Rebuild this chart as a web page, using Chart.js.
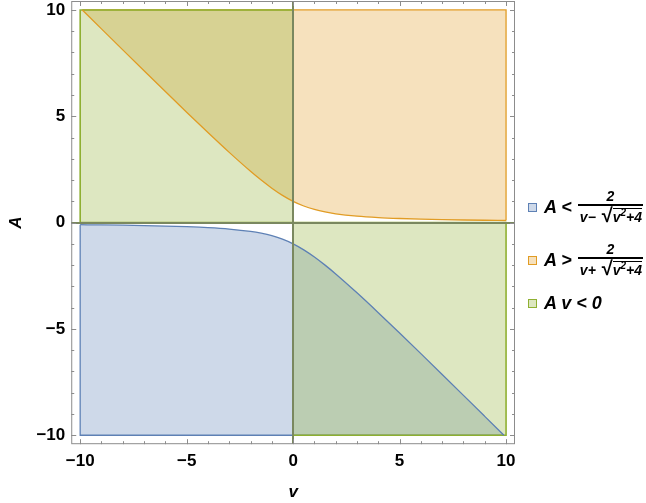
<!DOCTYPE html>
<html>
<head>
<meta charset="utf-8">
<script src="https://cdn.jsdelivr.net/npm/chart.js@4.4.1/dist/chart.umd.min.js"></script>
<style>
  body { margin: 0; background: #fff; }
  #wrap { position: relative; width: 646px; height: 503px; overflow: hidden; }
  #legend { position: absolute; left: 0; top: 0; font-family: "Liberation Sans", Arial, sans-serif; font-weight: bold; font-style: italic; color: #000; }
  .item { position: absolute; left: 528px; display: flex; align-items: center; white-space: nowrap; }
  .sw { display: inline-block; width: 7px; height: 7px; border: 1px solid; margin-right: 7px; }
  .lhs { font-size: 18px; line-height: 20px; margin-right: 6px; }
  .frac { display: inline-flex; flex-direction: column; align-items: center; font-size: 14px; line-height: 15px; }
  .den { border-top: 2px solid #000; padding: 2px 1px 0 2px; }
  .rad { border-top: 1.3px solid #000; line-height: 14px; }
  .root { font-size: 20px; font-style: normal; line-height: 15px; margin-left: 2px; }
  sup { font-size: 10px; line-height: 0; }
</style>
</head>
<body>
<div id="wrap">
  <canvas id="chart" width="646" height="503"></canvas>
  <div id="legend">
    <div class="item" style="top:189px">
      <span class="sw" style="border-color:#5E81B5;background:rgba(94,129,181,0.3)"></span>
      <span class="lhs">A &lt;</span>
      <span class="frac"><span class="num">2</span><span class="den">v− <span class="root">√</span><span class="rad">v<sup>2</sup>+4</span></span></span>
    </div>
    <div class="item" style="top:242px">
      <span class="sw" style="border-color:#E19C24;background:rgba(225,156,36,0.3)"></span>
      <span class="lhs">A &gt;</span>
      <span class="frac"><span class="num">2</span><span class="den">v+ <span class="root">√</span><span class="rad">v<sup>2</sup>+4</span></span></span>
    </div>
    <div class="item" style="top:293px">
      <span class="sw" style="border-color:#8FB032;background:rgba(143,176,50,0.3)"></span>
      <span class="lhs">A v &lt; 0</span>
    </div>
  </div>
</div>
<script>
// valeurs
const blueV = [-10, -9, -8, -7, -6, -5, -4, -3, -2, -1.5, -1, -0.5, 0, 0.5, 1, 1.5, 2, 3, 4, 5, 6, 7, 8, 9, 9.9];
const blueA = [-0.099, -0.110, -0.123, -0.140, -0.162, -0.193, -0.236, -0.303, -0.414, -0.5, -0.618, -0.781, -1, -1.281, -1.618, -2, -2.414, -3.303, -4.236, -5.193, -6.162, -7.140, -8.123, -9.110, -10];
const orangeV = [-9.9, -9, -8, -7, -6, -5, -4, -3, -2, -1.5, -1, -0.5, 0, 0.5, 1, 1.5, 2, 3, 4, 5, 6, 7, 8, 9, 10];
const orangeA = [10, 9.110, 8.123, 7.140, 6.162, 5.193, 4.236, 3.303, 2.414, 2, 1.618, 1.281, 1, 0.781, 0.618, 0.5, 0.414, 0.303, 0.236, 0.193, 0.162, 0.140, 0.123, 0.110, 0.099];
const tickVals = [-10, -5, 0, 5, 10];
const tickLabels = ['−10', '−5', '0', '5', '10'];
const axisMin = -10.42, axisMax = 10.42;

const BLUE = '#5E81B5', ORANGE = '#E19C24', GREEN = '#8FB032';
const pts = (xs, ys) => xs.map((x, i) => ({ x: x, y: ys[i] }));

const base = { pointRadius: 0, tension: 0, borderWidth: 1.3 };

const datasets = [
  // courbes par-dessus tout
  { ...base, data: pts(blueV, blueA), fill: false, borderColor: BLUE, cubicInterpolationMode: 'monotone', order: -1 },
  { ...base, data: pts(orangeV, orangeA), fill: false, borderColor: ORANGE, cubicInterpolationMode: 'monotone', order: -1 },
  // A v < 0
  { ...base, data: [{x: -10, y: 0}, {x: 0, y: 0}], fill: { value: 10 }, backgroundColor: 'rgba(143,176,50,0.3)', borderWidth: 0, order: 0 },
  { ...base, data: [{x: 0, y: 0}, {x: 10, y: 0}], fill: { value: -10 }, backgroundColor: 'rgba(143,176,50,0.3)', borderWidth: 0, order: 0 },
  { ...base, data: [{x: 0, y: 10}, {x: -10, y: 10}, {x: -10, y: 0}, {x: 0, y: 0}, {x: 0, y: 10}], fill: false, borderColor: GREEN, borderWidth: 1.6, order: 0 },
  { ...base, data: [{x: 0, y: 0}, {x: 10, y: 0}, {x: 10, y: -10}, {x: 0, y: -10}, {x: 0, y: 0}], fill: false, borderColor: GREEN, borderWidth: 1.6, order: 0 },
  // A < 2/(v - sqrt(v^2+4))
  { ...base, data: pts(blueV, blueA), fill: { value: -10 }, backgroundColor: 'rgba(94,129,181,0.3)', borderWidth: 0, cubicInterpolationMode: 'monotone', order: 1 },
  { ...base, data: [{x: -10, y: blueA[0]}, {x: -10, y: -10}, {x: 9.9, y: -10}], fill: false, borderColor: BLUE, order: 1 },
  // A > 2/(v + sqrt(v^2+4))
  { ...base, data: pts(orangeV, orangeA), fill: { value: 10 }, backgroundColor: 'rgba(225,156,36,0.3)', borderWidth: 0, cubicInterpolationMode: 'monotone', order: 1 },
  { ...base, data: [{x: -9.9, y: 10}, {x: 10, y: 10}, {x: 10, y: orangeA[orangeA.length - 1]}], fill: false, borderColor: ORANGE, order: 1 }
];

// cadre + graduations vers l'intérieur
const frameTicks = {
  id: 'frameTicks',
  afterDraw(chart) {
    const { ctx, chartArea: a, scales: { x, y } } = chart;
    ctx.save();
    ctx.strokeStyle = '#8c8c8c';
    ctx.lineWidth = 1;
    ctx.strokeRect(a.left + 0.5, a.top + 0.5, a.right - a.left - 1, a.bottom - a.top - 1);
    for (let v = -10; v <= 10; v++) {
      const len = v % 5 === 0 ? 5 : 3;
      const px = Math.round(x.getPixelForValue(v)) + 0.5;
      const py = Math.round(y.getPixelForValue(v)) + 0.5;
      ctx.beginPath();
      ctx.moveTo(px, a.bottom); ctx.lineTo(px, a.bottom - len);
      ctx.moveTo(px, a.top); ctx.lineTo(px, a.top + len);
      ctx.moveTo(a.left, py); ctx.lineTo(a.left + len, py);
      ctx.moveTo(a.right, py); ctx.lineTo(a.right - len, py);
      ctx.stroke();
    }
    ctx.restore();
  }
};

const tickFont = { family: '"Liberation Sans", Arial, sans-serif', size: 17, weight: 'bold' };
const titleFont = { family: '"Liberation Sans", Arial, sans-serif', size: 17, weight: 'bold', style: 'italic' };

const zeroGrid = {
  color: c => (c.tick && c.tick.value === 0 ? '#7a885f' : 'rgba(0,0,0,0)'),
  lineWidth: 2,
  drawTicks: false,
  z: 1
};
const noPad = s => { s.paddingTop = 0; s.paddingBottom = 0; s.paddingLeft = 0; s.paddingRight = 0; };

new Chart(document.getElementById('chart'), {
  type: 'line',
  data: { datasets: datasets },
  options: {
    responsive: false,
    animation: false,
    layout: { padding: { left: 6, top: 1, right: 131, bottom: 0 } },
    plugins: { legend: { display: false }, tooltip: { enabled: false } },
    scales: {
      x: {
        type: 'linear', min: axisMin, max: axisMax,
        afterBuildTicks: s => { s.ticks = tickVals.map(v => ({ value: v })); },
        afterFit: noPad,
        ticks: { font: tickFont, color: '#000', padding: 7, maxRotation: 0, callback: v => tickLabels[tickVals.indexOf(v)] },
        grid: zeroGrid,
        border: { display: false },
        title: { display: true, text: 'v', font: titleFont, color: '#000', padding: { top: 4, bottom: 0 } }
      },
      y: {
        type: 'linear', min: axisMin, max: axisMax,
        afterBuildTicks: s => { s.ticks = tickVals.map(v => ({ value: v })); },
        afterFit: noPad,
        ticks: { font: tickFont, color: '#000', padding: 6, callback: v => tickLabels[tickVals.indexOf(v)] },
        grid: zeroGrid,
        border: { display: false },
        title: { display: true, text: 'A', font: titleFont, color: '#000', padding: { top: 0, bottom: 4 } }
      }
    }
  },
  plugins: [frameTicks]
});
</script>
</body>
</html>
